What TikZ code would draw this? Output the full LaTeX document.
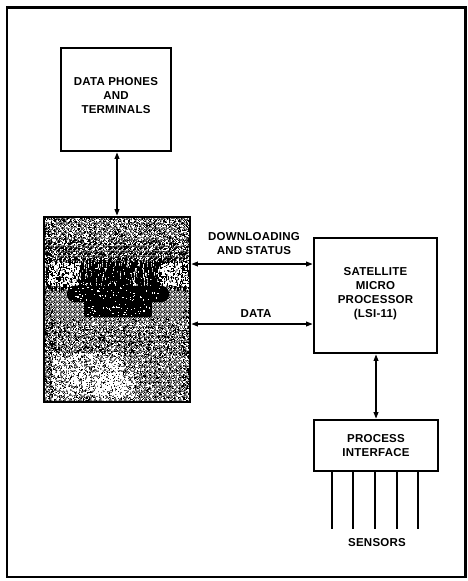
\documentclass[tikz,border=0pt]{standalone}
\usepackage{fontspec}
\setmainfont{Liberation Sans}[LetterSpace=2.0]
\usetikzlibrary{arrows.meta,patterns}
\newcommand{\cellsq}[2]{\pgfpathrectangle{\pgfpoint{#1*1.2pt}{#2*1.2pt}}{\pgfqpoint{1.2pt}{1.2pt}}}
\pgfdeclarepatternformonly{dithM}{\pgfpointorigin}{\pgfqpoint{4.8pt}{4.8pt}}{\pgfqpoint{4.8pt}{4.8pt}}{%
  \cellsq{0}{0}\cellsq{2}{0}\cellsq{1}{1}\cellsq{3}{1}\cellsq{0}{2}\cellsq{3}{2}\cellsq{1}{3}\cellsq{2}{3}\pgfusepath{fill}}
\pgfdeclarepatternformonly{dithD}{\pgfpointorigin}{\pgfqpoint{4.8pt}{4.8pt}}{\pgfqpoint{4.8pt}{4.8pt}}{%
  \cellsq{0}{0}\cellsq{1}{0}\cellsq{2}{0}\cellsq{1}{1}\cellsq{2}{1}\cellsq{3}{1}\cellsq{0}{2}\cellsq{2}{2}\cellsq{3}{2}\cellsq{0}{3}\cellsq{1}{3}\cellsq{3}{3}\pgfusepath{fill}}
\pgfdeclarepatternformonly{dithL}{\pgfpointorigin}{\pgfqpoint{4.8pt}{4.8pt}}{\pgfqpoint{4.8pt}{4.8pt}}{%
  \cellsq{0}{0}\cellsq{2}{1}\cellsq{3}{1}\cellsq{1}{2}\cellsq{3}{3}\pgfusepath{fill}}
\tikzset{
  boxframe/.style={draw=black, line width=2.8pt, fill=white, inner sep=0pt},
  lbl/.style={font=\fontsize{11.5}{14}\selectfont\bfseries, align=center, inner sep=0pt, text=black},
  biarrow/.style={line width=1.1pt, {Triangle[length=6.5pt,width=4.8pt]}-{Triangle[length=6.5pt,width=4.8pt]}},
  sensorline/.style={line width=1.1pt},
}
\newcommand{\speckle}[7]{% count, x0, width, y0, height, dot w, dot h
  \foreach \i in {1,...,#1}{
    \pgfmathsetmacro\nx{#2+#3*rnd}
    \pgfmathsetmacro\ny{#4+#5*rnd}
    \fill (\nx,\ny) rectangle ++(#6,#7);
  }}
\begin{document}
\begin{tikzpicture}[x=1pt,y=-1pt]
\useasboundingbox (0,0) rectangle (468,581);
\fill[white] (0,0) rectangle (468,581);
% outer frame
\draw[line width=2.8pt] (7,7.5) rectangle (465.5,577);

% boxes
\node[boxframe, minimum width=110pt, minimum height=103pt] (dp) at (116,99.5) {};
\node[lbl] (dptext) at (116,96) {DATA PHONES\\AND\\TERMINALS};

\node[boxframe, minimum width=123pt, minimum height=115pt] (sat) at (375.5,295.5) {};
\node[lbl] (sattext) at (375.5,293.5) {SATELLITE\\MICRO\\PROCESSOR\\(LSI-11)};

\node[boxframe, minimum width=124pt, minimum height=51pt] (proc) at (376,445.5) {};
\node[lbl] (proctext) at (376,445.5) {PROCESS\\INTERFACE};

% textured (photographic) box, black/white dither
\begin{scope}
\clip (44,217) rectangle (190,402);
\fill[white] (44,217) rectangle (190,402);
\fill[pattern=dithM] (44,217) rectangle (190,240);
\fill[pattern=dithD] (44,240) rectangle (190,260);
\fill[pattern=dithL] (44,260) rectangle (190,286);
\fill[pattern=dithM] (44,286) rectangle (190,402);
\pgfmathsetseed{4242}
\begin{scope}[fill=black]
\speckle{500}{44}{146}{217}{26}{1.2}{1.2}
\speckle{400}{44}{146}{240}{22}{1.2}{1.2}
\speckle{700}{44}{146}{258}{30}{1}{4.5}
\speckle{400}{78}{84}{262}{26}{1.2}{5}
\speckle{1200}{44}{146}{318}{84}{1.2}{1.2}
\speckle{400}{44}{146}{325}{30}{1.2}{1.2}
\speckle{200}{44}{8}{217}{185}{1.2}{1.2}
\speckle{200}{182}{8}{217}{185}{1.2}{1.2}
\end{scope}
\begin{scope}[fill=white]
\speckle{500}{44}{146}{217}{26}{1.2}{1.2}
\speckle{350}{44}{146}{240}{20}{1.2}{1.2}
\speckle{1200}{44}{146}{318}{84}{1.2}{1.2}
\speckle{700}{52}{70}{352}{46}{1.5}{1.5}
\speckle{250}{95}{40}{372}{24}{1.5}{1.5}
\speckle{200}{48}{30}{262}{24}{1.4}{1.4}
\speckle{200}{160}{28}{262}{24}{1.4}{1.4}
\end{scope}
% dark blob (illegible lettering)
\fill[black, rounded corners=7pt] (67,286) rectangle (169,302);
\fill[black, rounded corners=2pt] (84,300) rectangle (152,317);
\begin{scope}[fill=white]
\speckle{60}{70}{95}{287}{14}{1.2}{1.2}
\speckle{50}{86}{64}{304}{12}{1.2}{1.2}
\end{scope}
\end{scope}
\node[draw=black, line width=2.8pt, inner sep=0pt, minimum width=146pt, minimum height=185pt] (photo) at (117,309.5) {};

% connectors
\draw[biarrow] (dp.south -| photo.north) -- (photo.north);
\coordinate (ydl) at (0,264);
\coordinate (ydt) at (0,324);
\draw[biarrow] (photo.east |- ydl) -- (sat.west |- ydl);
\draw[biarrow] (photo.east |- ydt) -- (sat.west |- ydt);
\draw[biarrow] (sat.south -| proc.north) -- (proc.north);

\node[lbl] (dltext) at (254,244) {DOWNLOADING\\AND STATUS};
\node[lbl] (datatext) at (256,314) {DATA};

% sensors
\foreach \sx [count=\k] in {332,353,375,397,418}{
  \coordinate (s\k) at (\sx,529);
  \draw[sensorline] (proc.south -| s\k) -- (s\k);
}
\node[lbl] (senstext) at (377,543) {SENSORS};
\end{tikzpicture}
\end{document}
